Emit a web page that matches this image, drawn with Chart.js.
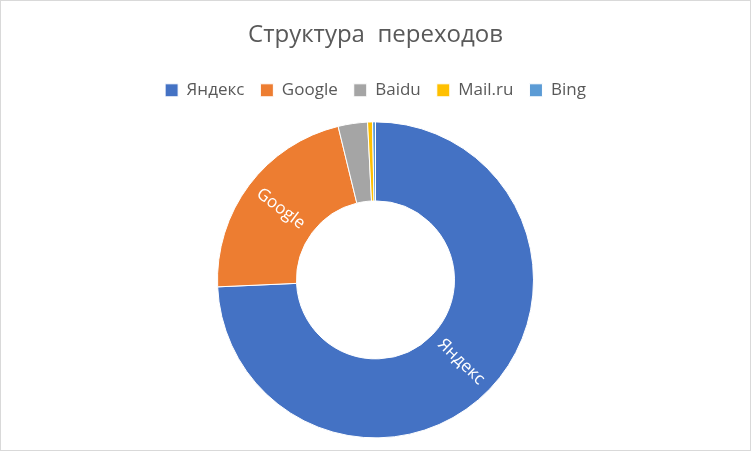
<!DOCTYPE html>
<html>
<head>
<meta charset="utf-8">
<script src="https://cdn.jsdelivr.net/npm/chart.js@4.4.0/dist/chart.umd.min.js"></script>
<style>
    body { margin: 0; background: #fff; }
    #chart { display: block; }
</style>
</head>
<body>
<canvas id="chart" width="751" height="451"></canvas>
<script>
const labels = ['Яндекс', 'Google', 'Baidu', 'Mail.ru', 'Bing'];
const values = [74.3, 21.9, 3.0, 0.5, 0.3];
const colors = ['#4472C4', '#ED7D31', '#A5A5A5', '#FFC000', '#5B9BD5'];
const labelledSlices = ['Яндекс', 'Google'];

const fontFamily = '"Open Sans", "Noto Sans", sans-serif';

// white background and thin frame like the original picture
const framePlugin = {
    id: 'frame',
    beforeDraw(chart) {
        const ctx = chart.ctx;
        ctx.save();
        ctx.fillStyle = '#fff';
        ctx.fillRect(0, 0, chart.width, chart.height);
        ctx.strokeStyle = '#D9D9D9';
        ctx.lineWidth = 1;
        ctx.strokeRect(0.5, 0.5, chart.width - 1, chart.height - 1);
        ctx.restore();
    }
};

// slice names written along the radius, inside the ring
const sliceLabelPlugin = {
    id: 'sliceLabels',
    afterDatasetsDraw(chart) {
        const ctx = chart.ctx;
        const meta = chart.getDatasetMeta(0);
        ctx.save();
        ctx.fillStyle = '#fff';
        ctx.font = '17px ' + fontFamily;
        ctx.textAlign = 'center';
        ctx.textBaseline = 'middle';
        meta.data.forEach((arc, i) => {
            if (!labelledSlices.includes(labels[i])) return;
            const p = arc.getProps(['x', 'y', 'startAngle', 'endAngle', 'innerRadius', 'outerRadius'], true);
            const a = (p.startAngle + p.endAngle) / 2;
            const r = (p.innerRadius + p.outerRadius) / 2;
            let rot = a;
            if (Math.cos(a) < 0) rot = a + Math.PI;
            ctx.save();
            ctx.translate(p.x + Math.cos(a) * r, p.y + Math.sin(a) * r);
            ctx.rotate(rot);
            ctx.fillText(labels[i], 0, 0);
            ctx.restore();
        });
        ctx.restore();
    }
};

new Chart(document.getElementById('chart'), {
    type: 'doughnut',
    data: {
        labels: labels,
        datasets: [{
            data: values,
            backgroundColor: colors,
            borderColor: '#fff',
            borderWidth: 1
        }]
    },
    options: {
        responsive: false,
        animation: false,
        cutout: '50%',
        radius: 158,
        layout: {
            padding: { top: 14, bottom: 0, left: 0, right: 0 }
        },
        plugins: {
            title: {
                display: true,
                text: 'Структура  переходов',
                color: '#595959',
                font: { family: fontFamily, size: 24, weight: 'normal' },
                padding: { top: 7, bottom: 16 }
            },
            legend: {
                position: 'top',
                labels: {
                    color: '#595959',
                    font: { family: fontFamily, size: 17 },
                    boxWidth: 13,
                    boxHeight: 13,
                    padding: 16
                }
            },
            tooltip: { enabled: false }
        }
    },
    plugins: [framePlugin, sliceLabelPlugin]
});
</script>
</body>
</html>
